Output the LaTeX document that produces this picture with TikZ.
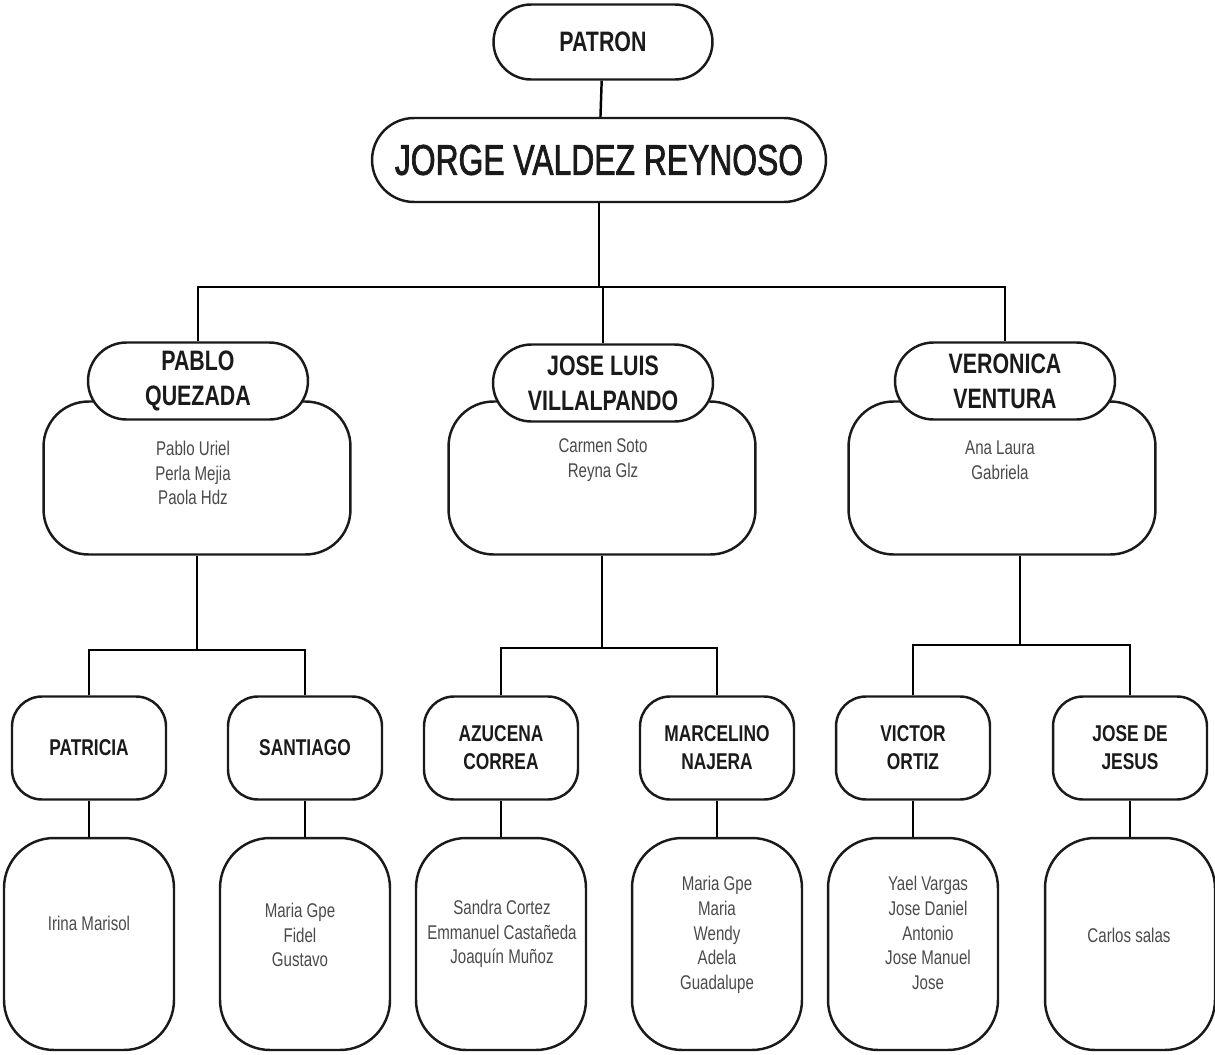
\documentclass[tikz,border=0pt]{standalone}
\usepackage{fontspec}
\setmainfont[FakeStretch=0.76]{Liberation Sans}
\newfontfamily\bossfont[FakeStretch=0.74,FakeBold=1.6]{Liberation Sans}
\definecolor{ink}{HTML}{1A1A1A}
\definecolor{lead}{HTML}{4A4A4A}
\begin{document}
\begin{tikzpicture}[x=0.02cm,y=-0.02cm,line width=1.4pt,
	pill/.style={draw=ink,fill=white,rounded corners=0.77cm,minimum width=4.4cm,minimum height=1.54cm,inner sep=0pt,align=center,text=ink,font=\fontsize{16}{20}\selectfont\bfseries},
	team/.style={draw=ink,fill=white,rounded corners=0.9cm,minimum width=6.14cm,minimum height=3.06cm},
	head/.style={draw=ink,rounded corners=0.6cm,minimum width=3.08cm,minimum height=2.06cm,inner sep=0pt,align=center,text=ink,font=\fontsize{13}{16}\selectfont\bfseries},
	crew/.style={draw=ink,rounded corners=1cm,minimum width=3.4cm,minimum height=4.24cm},
	names/.style={align=center,text=lead,font=\fontsize{11.3}{14}\selectfont}]
	\useasboundingbox (0,0) rectangle (1215,1055);
	%top
	\node[pill,minimum width=4.38cm,minimum height=1.5cm,rounded corners=0.75cm] (patron) at (603,42) {PATRON};
	\node[pill,minimum width=9.08cm,minimum height=1.68cm,rounded corners=0.84cm,font=\bossfont\fontsize{24.5}{28}\selectfont] (jorge) at (599,160) {JORGE VALDEZ REYNOSO};
	%first level
	\node[team] (pabloteam) at (197,478) {};
	\node[pill] (pablo) at (198,381) {PABLO\\QUEZADA};
	\node[names] (pablonames) at (193,473) {Pablo Uriel\\Perla Mejia\\Paola Hdz};
	\node[team] (joseteam) at (602,478) {};
	\node[pill] (jose) at (603,383) {JOSE LUIS\\VILLALPANDO};
	\node[names] (josenames) at (603,460) {Carmen Soto\\Reyna Glz};
	\node[team] (veronicateam) at (1002,478) {};
	\node[pill] (veronica) at (1005,381) {VERONICA\\VENTURA};
	\node[names] (veronicanames) at (1000,460) {Ana Laura\\Gabriela};
	\coordinate (bar) at (600,287);
	\draw (patron) -- (jorge);
	\draw (jorge.south) -- (jorge.south |- bar);
	\draw (pablo.north) |- (bar) -| (veronica.north);
	\draw (jose.north) -- (jose.north |- bar);
	%second level
	\node[head] (patricia) at (89,748) {PATRICIA};
	\node[head] (santiago) at (305,748) {SANTIAGO};
	\node[head] (azucena) at (501,748) {AZUCENA\\CORREA};
	\node[head] (marcelino) at (717,748) {MARCELINO\\NAJERA};
	\node[head] (victor) at (913,748) {VICTOR\\ORTIZ};
	\node[head] (jesus) at (1130,748) {JOSE DE\\JESUS};
	\coordinate (forkA) at (197,650);
	\coordinate (forkB) at (602,648);
	\coordinate (forkC) at (1020,645);
	\draw (pabloteam.south) -- (forkA);
	\draw (patricia.north) |- (forkA) -| (santiago.north);
	\draw (joseteam.south) -- (forkB);
	\draw (azucena.north) |- (forkB) -| (marcelino.north);
	\draw (forkC |- veronicateam.south) -- (forkC);
	\draw (victor.north) |- (forkC) -| (jesus.north);
	%crews
	\foreach \n/\x in {patricia/89,santiago/305,azucena/501,marcelino/717,victor/913,jesus/1130}{
		\node[crew] (\n crew) at (\x,944) {};
		\draw (\n) -- (\n crew);
	}
	\node[names] (patricianames) at (89,923) {Irina Marisol};
	\node[names] (santiagonames) at (300,935) {Maria Gpe\\Fidel\\Gustavo};
	\node[names] (azucenanames) at (502,934) {Sandra Cortez\\Emmanuel Castañeda\\Joaquín Muñoz};
	\node[names] (marcelinonames) at (717,935) {Maria Gpe\\Maria\\Wendy\\Adela\\Guadalupe};
	\node[names] (victornames) at (928,933) {Yael Vargas\\Jose Daniel\\Antonio\\Jose Manuel\\Jose};
	\node[names] (jesusnames) at (1129,935) {Carlos salas};
\end{tikzpicture}
\end{document}
